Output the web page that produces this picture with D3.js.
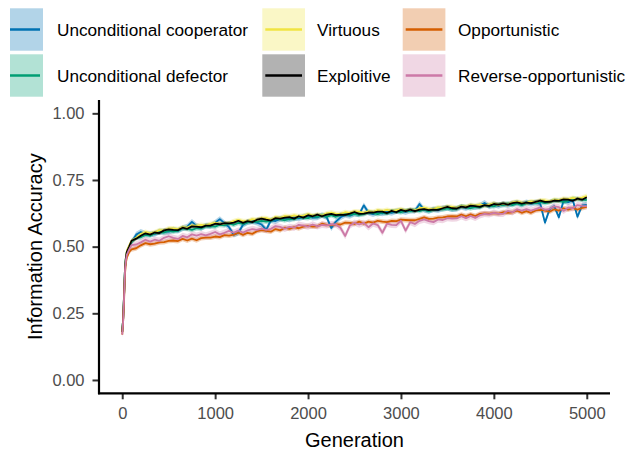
<!DOCTYPE html>
<html>
<head>
<meta charset="utf-8">
<script src="https://cdn.jsdelivr.net/npm/d3@7/dist/d3.min.js"></script>
<style>
  html, body { margin: 0; padding: 0; background: #ffffff; }
  svg { display: block; font-family: "Liberation Sans", Arial, sans-serif; }
</style>
</head>
<body>
<svg id="chart" width="631" height="457"></svg>
<script>
// Generations at which mean information accuracy was recorded
const generations = [
  0, 10, 20, 30, 40, 50, 75,
  100, 150, 200, 250, 300, 350, 400, 450, 500, 550,
  600, 650, 700, 750, 800, 850, 900, 950, 1000, 1050,
  1100, 1150, 1200, 1250, 1300, 1350, 1400, 1450, 1500, 1550,
  1600, 1650, 1700, 1750, 1800, 1850, 1900, 1950, 2000, 2050,
  2100, 2150, 2200, 2250, 2300, 2350, 2400, 2450, 2500, 2550,
  2600, 2650, 2700, 2750, 2800, 2850, 2900, 2950, 3000, 3050,
  3100, 3150, 3200, 3250, 3300, 3350, 3400, 3450, 3500, 3550,
  3600, 3650, 3700, 3750, 3800, 3850, 3900, 3950, 4000, 4050,
  4100, 4150, 4200, 4250, 4300, 4350, 4400, 4450, 4500, 4550,
  4600, 4650, 4700, 4750, 4800, 4850, 4900, 4950, 5000
];

const strategies = [
  "Unconditional cooperator", "Unconditional defector", "Virtuous",
  "Exploitive", "Opportunistic", "Reverse-opportunistic"
];

const colors = ["#0072B2", "#009E73", "#F0E442", "#000000", "#D55E00", "#CC79A7"];

// Mean accuracy per strategy
const unconditionalCooperator = [
  .18, .23, .32, .42, .46, .48, .50,
  .517, .545, .555, .548, .547, .548, .557, .557, .556, .564,
  .560, .569, .575, .593, .578, .571, .579, .578, .590, .603,
  .588, .573, .545, .552, .582, .592, .595, .590, .583, .563,
  .599, .596, .604, .607, .602, .609, .606, .612, .615, .609,
  .610, .618, .611, .570, .594, .610, .619, .616, .624, .621,
  .655, .628, .622, .629, .625, .631, .627, .633, .635, .630,
  .636, .634, .660, .638, .634, .640, .637, .644, .646, .641,
  .642, .649, .645, .652, .648, .654, .664, .651, .659, .653,
  .660, .656, .662, .665, .659, .666, .661, .666, .660, .590,
  .640, .652, .610, .672, .667, .674, .612, .655, .657
];
const unconditionalDefector = [
  .18, .23, .32, .42, .46, .48, .50,
  .517, .534, .535, .544, .541, .550, .555, .553, .559, .556,
  .560, .569, .567, .563, .569, .569, .577, .576, .575, .582,
  .580, .587, .582, .589, .585, .591, .595, .593, .597, .594,
  .597, .605, .603, .599, .604, .603, .611, .609, .607, .614,
  .612, .617, .612, .618, .612, .619, .622, .619, .623, .619,
  .622, .629, .627, .622, .628, .625, .633, .632, .629, .635,
  .633, .638, .633, .639, .633, .639, .643, .640, .644, .640,
  .643, .651, .648, .644, .649, .647, .656, .653, .651, .658,
  .656, .661, .656, .662, .656, .663, .666, .663, .667, .663,
  .667, .673, .672, .667, .672, .680, .678, .676, .675
];
const virtuous = [
  .18, .23, .32, .42, .46, .485, .505,
  .522, .533, .548, .555, .550, .554, .562, .561, .568, .568,
  .566, .573, .572, .580, .579, .582, .580, .585, .590, .585,
  .587, .588, .596, .600, .596, .596, .603, .601, .607, .607,
  .601, .611, .608, .615, .613, .617, .614, .616, .622, .616,
  .620, .617, .625, .628, .624, .623, .629, .627, .632, .631,
  .627, .633, .630, .637, .634, .638, .634, .637, .641, .635,
  .639, .636, .644, .646, .642, .641, .647, .645, .650, .649,
  .645, .652, .650, .657, .654, .658, .655, .658, .662, .657,
  .661, .658, .666, .669, .665, .664, .670, .668, .673, .673,
  .669, .676, .674, .680, .678, .683, .679, .684, .690
];
const exploitive = [
  .18, .23, .32, .42, .46, .48, .50,
  .522, .530, .541, .550, .545, .553, .551, .561, .565, .563,
  .562, .571, .567, .576, .575, .572, .579, .579, .586, .584,
  .588, .587, .590, .597, .589, .596, .592, .601, .605, .601,
  .598, .607, .605, .609, .611, .605, .614, .609, .618, .614,
  .620, .614, .620, .623, .618, .620, .619, .624, .630, .623,
  .624, .628, .628, .631, .631, .626, .634, .629, .638, .633,
  .639, .633, .639, .641, .637, .639, .638, .644, .649, .644,
  .643, .650, .647, .654, .652, .649, .656, .653, .660, .658,
  .662, .658, .663, .666, .661, .665, .663, .668, .673, .668,
  .668, .673, .672, .677, .676, .672, .680, .676, .685
];
const opportunistic = [
  .17, .22, .30, .40, .44, .46, .48,
  .490, .494, .505, .513, .509, .511, .516, .517, .522, .523,
  .521, .529, .523, .530, .524, .532, .534, .534, .538, .536,
  .543, .541, .545, .552, .544, .552, .548, .558, .562, .559,
  .556, .566, .561, .571, .567, .573, .569, .575, .578, .575,
  .576, .586, .582, .580, .583, .583, .590, .589, .585, .594,
  .586, .594, .590, .597, .594, .592, .597, .596, .601, .600,
  .599, .599, .604, .610, .604, .605, .609, .610, .613, .614,
  .613, .620, .614, .621, .615, .623, .625, .624, .626, .624,
  .629, .627, .629, .635, .627, .633, .627, .636, .638, .635,
  .631, .640, .635, .644, .639, .645, .639, .645, .649
];
const reverseOpportunistic = [
  .17, .22, .31, .41, .45, .47, .49,
  .506, .508, .516, .526, .519, .526, .522, .533, .539, .533,
  .529, .540, .535, .546, .541, .547, .542, .548, .555, .546,
  .552, .559, .552, .560, .553, .561, .566, .563, .568, .563,
  .567, .577, .574, .567, .574, .571, .582, .579, .575, .583,
  .576, .582, .580, .584, .583, .570, .540, .579, .590, .583,
  .589, .573, .587, .581, .552, .586, .582, .581, .597, .560,
  .592, .585, .597, .602, .596, .592, .602, .600, .607, .605,
  .606, .614, .607, .615, .608, .618, .623, .621, .627, .623,
  .623, .634, .629, .640, .635, .641, .635, .641, .647, .638,
  .642, .651, .648, .634, .647, .644, .656, .653, .652
];

// Half-width of each strategy's confidence band
const bandHalfWidth = [0.011, 0.009, 0.009, 0.007, 0.009, 0.012];

const xTicks = [0, 1000, 2000, 3000, 4000, 5000];
const yTicks = [0, 0.25, 0.5, 0.75, 1];

const seriesValues = [
  unconditionalCooperator, unconditionalDefector, virtuous,
  exploitive, opportunistic, reverseOpportunistic
];

const series = strategies.map((name, i) => ({
  name,
  color: colors[i],
  half: bandHalfWidth[i],
  points: generations.map((g, j) => ({ g, v: seriesValues[i][j] }))
}));

const svg = d3.select("#chart");

const x = d3.scaleLinear().domain([-250, 5250]).range([99, 610]);
const y = d3.scaleLinear().domain([-0.05, 1.05]).range([393.3, 100]);

// Confidence bands first, then mean lines on top
const area = d3.area()
  .x(d => x(d.g))
  .y0(d => y(d.v - d.half))
  .y1(d => y(d.v + d.half));

const line = d3.line()
  .x(d => x(d.g))
  .y(d => y(d.v));

const plot = svg.append("g");

plot.selectAll("path.band")
  .data(series)
  .join("path")
  .attr("class", "band")
  .attr("fill", d => d.color)
  .attr("fill-opacity", 0.3)
  .attr("d", d => area(d.points.map(p => ({ g: p.g, v: p.v, half: d.half }))));

plot.selectAll("path.mean")
  .data(series)
  .join("path")
  .attr("class", "mean")
  .attr("fill", "none")
  .attr("stroke", d => d.color)
  .attr("stroke-width", 1.8)
  .attr("stroke-linejoin", "round")
  .attr("d", d => line(d.points));

// Axes
const xAxis = svg.append("g")
  .attr("transform", "translate(0,393.3)")
  .call(d3.axisBottom(x).tickValues(xTicks).tickFormat(d3.format("d")).tickSize(6).tickPadding(8));
const yAxis = svg.append("g")
  .attr("transform", "translate(99,0)")
  .call(d3.axisLeft(y).tickValues(yTicks).tickFormat(d3.format(".2f")).tickSize(6.5).tickPadding(8));

[xAxis, yAxis].forEach(ax => {
  ax.select(".domain").remove();
  ax.selectAll(".tick line").attr("stroke", "#333333").attr("stroke-width", 2);
  ax.selectAll(".tick text")
    .attr("fill", "#4D4D4D")
    .style("font-size", "16.5px")
    .style("font-family", "'Liberation Sans', Arial, sans-serif");
});

// Axis lines along the left and bottom panel edges
svg.append("line")
  .attr("x1", 99).attr("x2", 99)
  .attr("y1", 100).attr("y2", 394.3)
  .attr("stroke", "#000").attr("stroke-width", 2.2);
svg.append("line")
  .attr("x1", 98).attr("x2", 610)
  .attr("y1", 393.3).attr("y2", 393.3)
  .attr("stroke", "#000").attr("stroke-width", 2.2);

// Axis titles
svg.append("text")
  .attr("x", x(2500))
  .attr("y", 447)
  .attr("text-anchor", "middle")
  .style("font-size", "20px")
  .attr("fill", "#000")
  .text("Generation");

svg.append("text")
  .attr("transform", `translate(42,${(100 + 393.3) / 2}) rotate(-90)`)
  .attr("text-anchor", "middle")
  .style("font-size", "20px")
  .attr("fill", "#000")
  .text("Information Accuracy");

// Legend: three columns, two rows
svg.append("defs").append("clipPath").attr("id", "legend-clip")
  .append("rect").attr("x", 10).attr("y", 0).attr("width", 631).attr("height", 100);

const keyX = [0.3, 262.3, 402.7];
const textX = [57, 317, 458];
const keyY = [8.3, 54.3];
const keyW = 42.7, keyH = 42.4;

const legend = svg.append("g").attr("clip-path", "url(#legend-clip)");
const entries = legend.selectAll("g.entry")
  .data(series)
  .join("g")
  .attr("class", "entry")
  .attr("transform", (d, i) => `translate(0,${keyY[i % 2]})`);

entries.append("rect")
  .attr("x", (d, i) => keyX[Math.floor(i / 2)])
  .attr("y", 0)
  .attr("width", keyW)
  .attr("height", keyH)
  .attr("fill", d => d.color)
  .attr("fill-opacity", 0.3);

entries.append("line")
  .attr("x1", (d, i) => keyX[Math.floor(i / 2)] + 3)
  .attr("x2", (d, i) => keyX[Math.floor(i / 2)] + keyW - 3)
  .attr("y1", keyH / 2)
  .attr("y2", keyH / 2)
  .attr("stroke", d => d.color)
  .attr("stroke-width", 2.5);

entries.append("text")
  .attr("x", (d, i) => textX[Math.floor(i / 2)])
  .attr("y", keyH / 2)
  .attr("dy", "0.36em")
  .style("font-size", "17.2px")
  .attr("fill", "#000")
  .text(d => d.name);
</script>
</body>
</html>
